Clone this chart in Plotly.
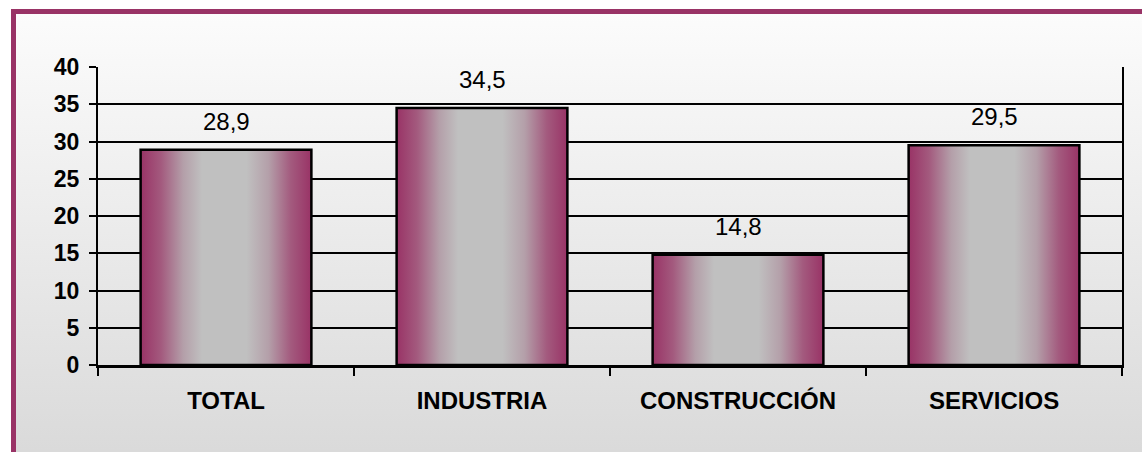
import base64
import plotly.graph_objects as go

# ---- data ----
categories = ["TOTAL", "INDUSTRIA", "CONSTRUCCIÓN", "SERVICIOS"]
values = [28.9, 34.5, 14.8, 29.5]
value_labels = ["28,9", "34,5", "14,8", "29,5"]
y_ticks = [0, 5, 10, 15, 20, 25, 30, 35, 40]

# ---- styling ----
W, H = 1142, 452
ML, MR, MT, MB = 98, 20, 67, 87
PW, PH = W - ML - MR, H - MT - MB
BAR_W = 0.667
MAROON = "#993366"
FONT = "Liberation Sans"
GRAD = [
    [0.0, MAROON],
    [0.12, "#a35a7e"],
    [0.25, "#b49fa9"],
    [0.36, "#c0c0c0"],
    [0.62, "#c0c0c0"],
    [0.75, "#b49fa9"],
    [0.88, "#a35a7e"],
    [1.0, MAROON],
]

fig = go.Figure()

# gradient fills of the bars (numeric helper axis x)
for i, v in enumerate(values):
    x0, x1 = i - BAR_W / 2, i + BAR_W / 2
    fig.add_trace(go.Scatter(
        x=[x0, x1, x1, x0, x0], y=[0, 0, v, v, 0],
        mode="lines", fill="toself",
        fillgradient=dict(type="horizontal", colorscale=GRAD),
        line=dict(width=0, color="rgba(0,0,0,0)"),
        hoverinfo="skip", showlegend=False,
        xaxis="x", yaxis="y",
    ))

# bars (outline) on category axis x2
fig.add_trace(go.Bar(
    x=categories, y=values, width=BAR_W,
    marker=dict(color="rgba(0,0,0,0)", line=dict(color="black", width=2.5)),
    xaxis="x2", yaxis="y", showlegend=False,
))

for c, v, lab in zip(categories, values, value_labels):
    fig.add_annotation(
        x=c, y=v, xref="x2", yref="y", text=lab, showarrow=False,
        yanchor="bottom", yshift=13,
        font=dict(family=FONT, size=24, color="black"),
    )

svg = f'''<svg xmlns="http://www.w3.org/2000/svg" width="{W}" height="{H}">
<defs><linearGradient id="g" x1="0" y1="0" x2="0" y2="1">
<stop offset="0" stop-color="#fcfcfc"/><stop offset="1" stop-color="#d9d9d9"/>
</linearGradient></defs>
<rect x="0" y="0" width="{W}" height="{H}" fill="#ffffff"/>
<rect x="13.5" y="11.5" width="{W}" height="{H}" fill="url(#g)" stroke="{MAROON}" stroke-width="5"/>
</svg>'''
src = "data:image/svg+xml;base64," + base64.b64encode(svg.encode()).decode()
fig.add_layout_image(
    source=src, xref="paper", yref="paper",
    x=-ML / PW, y=1 + MT / PH, sizex=W / PW, sizey=H / PH,
    xanchor="left", yanchor="top", sizing="stretch", layer="below",
)

fig.update_layout(
    width=W, height=H,
    margin=dict(l=ML, r=MR, t=MT, b=MB, pad=0),
    paper_bgcolor="#ffffff",
    plot_bgcolor="rgba(0,0,0,0)",
    showlegend=False,
    xaxis=dict(range=[-0.5, 3.5], visible=False, fixedrange=True),
    xaxis2=dict(
        overlaying="x", anchor="y", side="bottom", type="category",
        range=[-0.5, 3.5], showgrid=False,
        showline=True, linecolor="black", linewidth=3,
        ticks="outside", tickson="boundaries", ticklen=8, tickwidth=2, tickcolor="black",
        tickfont=dict(family=FONT, size=24, color="black", weight="bold"),
        ticklabelstandoff=12,
    ),
    yaxis=dict(
        range=[0, 40], tickvals=y_ticks,
        showgrid=True, gridcolor="black", gridwidth=2, zeroline=False,
        showline=True, linecolor="black", linewidth=2, mirror=True,
        ticks="outside", ticklen=7, tickwidth=2, tickcolor="black",
        tickfont=dict(family=FONT, size=23, color="black", weight="bold"),
        ticklabelstandoff=5,
    ),
)

fig.write_html(
    "out.html",
    config={"displayModeBar": False},
    post_script="document.body.style.margin='0';document.body.style.overflow='hidden';",
)
